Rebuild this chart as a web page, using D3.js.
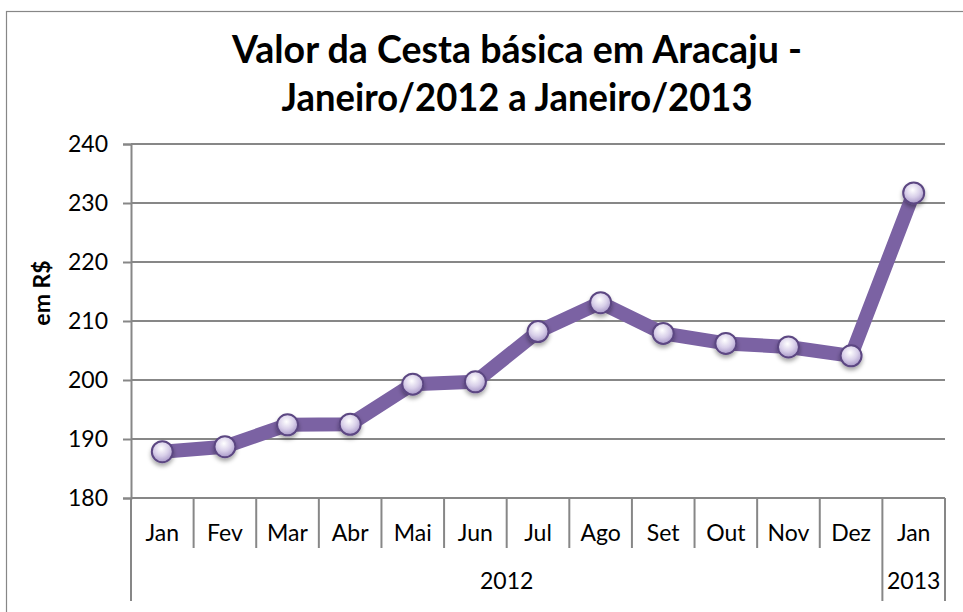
<!DOCTYPE html>
<html>
<head>
<meta charset="utf-8">
<script src="https://cdn.jsdelivr.net/npm/d3@7"></script>
<style>
  html, body { margin: 0; padding: 0; background: #fff; }
  svg { display: block; font-family: Lato, 'Open Sans', sans-serif; }
</style>
</head>
<body>
<div id="chart"></div>
<script>
const months = ['Jan', 'Fev', 'Mar', 'Abr', 'Mai', 'Jun', 'Jul', 'Ago', 'Set', 'Out', 'Nov', 'Dez', 'Jan'];
const years = [{ label: '2012', from: 0, to: 11 }, { label: '2013', from: 12, to: 12 }];
const values = [187.85, 188.7, 192.4, 192.5, 199.3, 199.7, 208.2, 213.1, 207.9, 206.2, 205.6, 204.1, 231.7];
const yTicks = [180, 190, 200, 210, 220, 230, 240];
const titleLines = ['Valor da Cesta básica em Aracaju -', 'Janeiro/2012 a Janeiro/2013'];
const yLabel = 'em R$';

const W = 963, H = 612;
const plot = { left: 131, right: 945, top: 144, bottom: 498 };
const gridColor = '#878787';
const lineColor = '#7B62A3';

const svg = d3.select('#chart').append('svg')
  .attr('width', W).attr('height', H)
  .attr('viewBox', `0 0 ${W} ${H}`);

const defs = svg.append('defs');
const grad = defs.append('radialGradient')
  .attr('id', 'ball').attr('cx', '45%').attr('cy', '35%').attr('r', '65%');
grad.append('stop').attr('offset', '0%').attr('stop-color', '#ffffff');
grad.append('stop').attr('offset', '55%').attr('stop-color', '#d8cfe9');
grad.append('stop').attr('offset', '100%').attr('stop-color', '#a898c8');
const shadow = defs.append('filter').attr('id', 'shadow')
  .attr('x', '-50%').attr('y', '-50%').attr('width', '200%').attr('height', '200%');
shadow.append('feDropShadow').attr('dx', 0).attr('dy', 3)
  .attr('stdDeviation', 2).attr('flood-color', '#000').attr('flood-opacity', 0.35);

// outer frame (cut off at right and bottom like the screenshot)
svg.append('rect')
  .attr('x', 6.5).attr('y', 11.5).attr('width', W + 20).attr('height', H + 20)
  .attr('fill', 'none').attr('stroke', gridColor).attr('stroke-width', 1.2);

const x = d3.scaleBand().domain(d3.range(months.length)).range([plot.left, plot.right]);
const y = d3.scaleLinear().domain([180, 240]).range([plot.bottom, plot.top]);

// title
const titleWidths = [570, 471];
svg.append('g').selectAll('text').data(titleLines).enter().append('text')
  .attr('x', 517)
  .attr('y', (d, i) => 63 + i * 48)
  .attr('text-anchor', 'middle')
  .attr('font-size', 39)
  .attr('font-weight', 'bold')
  .attr('fill', '#000')
  .attr('textLength', (d, i) => titleWidths[i])
  .attr('lengthAdjust', 'spacingAndGlyphs')
  .text(d => d);

// gridlines
svg.append('g').selectAll('line').data(yTicks).enter().append('line')
  .attr('x1', plot.left).attr('x2', plot.right)
  .attr('y1', d => y(d)).attr('y2', d => y(d))
  .attr('stroke', gridColor).attr('stroke-width', 2);

// y axis
const yAxis = svg.append('g')
  .attr('transform', `translate(${plot.left},0)`)
  .call(d3.axisLeft(y).tickValues(yTicks).tickSize(8).tickPadding(15));
yAxis.select('.domain').attr('stroke', gridColor).attr('stroke-width', 2);
yAxis.selectAll('.tick line').attr('stroke', gridColor).attr('stroke-width', 2);
yAxis.selectAll('.tick text')
  .attr('font-size', 23).attr('fill', '#000')
  .attr('font-family', 'Lato, sans-serif');

svg.append('text')
  .attr('transform', `translate(50,293) rotate(-90)`)
  .attr('text-anchor', 'middle')
  .attr('font-size', 23)
  .attr('font-weight', 'bold')
  .text(yLabel);

// x axis: month separators and year groups
const sepG = svg.append('g');
const edges = d3.range(months.length + 1);
const groupEdges = new Set([0, ...years.map(g => g.to + 1)]);
sepG.selectAll('line').data(edges).enter().append('line')
  .attr('x1', i => i < months.length ? x(i) : plot.right)
  .attr('x2', i => i < months.length ? x(i) : plot.right)
  .attr('y1', plot.bottom)
  .attr('y2', i => groupEdges.has(i) ? 601 : 548)
  .attr('stroke', gridColor).attr('stroke-width', 2);

svg.append('g').selectAll('text').data(months).enter().append('text')
  .attr('x', (d, i) => x(i) + x.bandwidth() / 2)
  .attr('y', 541)
  .attr('text-anchor', 'middle')
  .attr('font-size', 23)
  .text(d => d);

svg.append('g').selectAll('text').data(years).enter().append('text')
  .attr('x', g => (x(g.from) + x(g.to) + x.bandwidth()) / 2)
  .attr('y', 589)
  .attr('text-anchor', 'middle')
  .attr('font-size', 23)
  .text(g => g.label);

// series
const pts = values.map((v, i) => [x(i) + x.bandwidth() / 2, y(v)]);
svg.append('path')
  .datum(pts)
  .attr('d', d3.line())
  .attr('fill', 'none')
  .attr('stroke', lineColor)
  .attr('stroke-width', 14)
  .attr('stroke-linejoin', 'round')
  .attr('stroke-linecap', 'round');

svg.append('g').selectAll('circle').data(pts).enter().append('circle')
  .attr('cx', d => d[0])
  .attr('cy', d => d[1])
  .attr('r', 10.5)
  .attr('fill', 'url(#ball)')
  .attr('stroke', '#5b4682')
  .attr('stroke-width', 2)
  .style('filter', 'url(#shadow)');
</script>
</body>
</html>
